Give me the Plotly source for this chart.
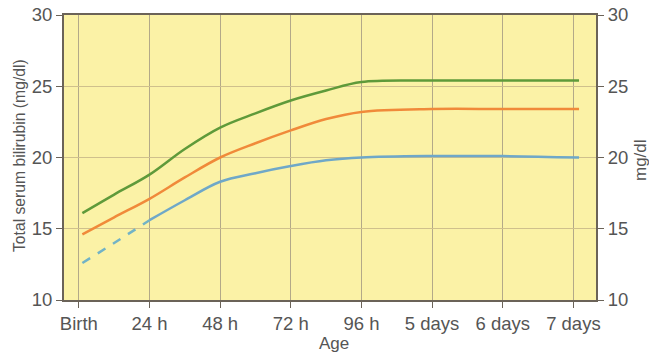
import plotly.graph_objects as go

tick_labels = ["Birth", "24 h", "48 h", "72 h", "96 h", "5 days", "6 days", "7 days"]
tick_pos = [0, 1, 2, 3, 4, 5, 6, 7]
y_ticks = [10, 15, 20, 25, 30]

x_main = [0.05, 0.5, 1, 1.5, 2, 2.5, 3, 3.5, 4, 5, 6, 7.08]
green = [16.1, 17.4, 18.8, 20.6, 22.1, 23.1, 24.0, 24.7, 25.3, 25.4, 25.4, 25.4]
orange = [14.6, 15.8, 17.1, 18.6, 20.0, 21.0, 21.9, 22.7, 23.2, 23.4, 23.4, 23.4]

x_blue_dash = [0.05, 0.5, 1]
blue_dash = [12.6, 14.0, 15.6]
x_blue = [1, 1.5, 2, 2.5, 3, 3.5, 4, 5, 6, 7.08]
blue = [15.6, 17.0, 18.3, 18.9, 19.4, 19.8, 20.0, 20.1, 20.1, 20.0]

fig = go.Figure()
fig.add_trace(go.Scatter(x=x_main, y=green, mode="lines", line=dict(color="#5f9a3a", width=2.5),
                         line_shape="spline", showlegend=False))
fig.add_trace(go.Scatter(x=x_main, y=orange, mode="lines", line=dict(color="#f08a3a", width=2.5),
                         line_shape="spline", showlegend=False))
fig.add_trace(go.Scatter(x=x_blue_dash, y=blue_dash, mode="lines",
                         line=dict(color="#72b3c6", width=2.5, dash="dash"),
                         line_shape="spline", showlegend=False))
fig.add_trace(go.Scatter(x=x_blue, y=blue, mode="lines", line=dict(color="#6fa8c8", width=2.5),
                         line_shape="spline", showlegend=False))
fig.add_trace(go.Scatter(x=[0], y=[10], yaxis="y2", mode="markers",
                         marker=dict(opacity=0), showlegend=False, hoverinfo="skip"))

fam = "Liberation Sans, Arial, sans-serif"
txt = "#555555"
axcol = "#6b6358"
tf = dict(family=fam, size=18.5, color=txt)

W, H = 649, 358
L, R, T, B = 64, 53, 15, 58
pw, ph = W - L - R, H - T - B

def px(x):
    return (x - L) / pw

def py(y):
    return (H - B - y) / ph

fig.update_layout(
    width=W, height=H,
    margin=dict(l=L, r=R, t=T, b=B),
    paper_bgcolor="white",
    plot_bgcolor="#fbf2a6",
    font=dict(family=fam, color=txt, size=15),
    hovermode=False,
    xaxis=dict(
        range=[-0.21, 7.32], tickvals=tick_pos, ticktext=tick_labels,
        showgrid=True, gridcolor="#b3a988", gridwidth=1,
        showline=True, linecolor=axcol, linewidth=2, mirror=True,
        ticks="outside", ticklen=6, tickcolor=axcol,
        zeroline=False, automargin=False,
        tickfont=tf,
    ),
    yaxis=dict(
        range=[10, 30], tickvals=y_ticks,
        showgrid=True, gridcolor="#cfc08c", gridwidth=1,
        showline=True, linecolor=axcol, linewidth=2,
        ticks="outside", ticklen=6, tickcolor=axcol,
        zeroline=False, automargin=False,
        tickfont=tf,
    ),
    yaxis2=dict(
        range=[10, 30], tickvals=y_ticks, overlaying="y", side="right",
        showgrid=False, showline=True, linecolor=axcol, linewidth=2,
        ticks="outside", ticklen=6, tickcolor=axcol, zeroline=False, automargin=False,
        tickfont=tf,
    ),
    annotations=[
        dict(text="mg/dl", textangle=-90, xref="paper", yref="paper",
             x=px(640), y=py(160), showarrow=False,
             font=dict(family=fam, size=17, color=txt), xanchor="center", yanchor="middle"),
        dict(text="Total serum bilirubin (mg/dl)", textangle=-90, xref="paper", yref="paper",
             x=px(19), y=py(156), showarrow=False,
             font=dict(family=fam, size=15.7, color=txt), xanchor="center", yanchor="middle"),
        dict(text="Age", xref="paper", yref="paper",
             x=px(334), y=py(343), showarrow=False,
             font=dict(family=fam, size=17, color=txt), xanchor="center", yanchor="middle"),
    ],
)

# remove the browser's default 8px body margin so the figure fills the window exactly
fig.write_html("out.html", config={"displayModeBar": False},
               post_script="document.body.style.margin='0px';")
